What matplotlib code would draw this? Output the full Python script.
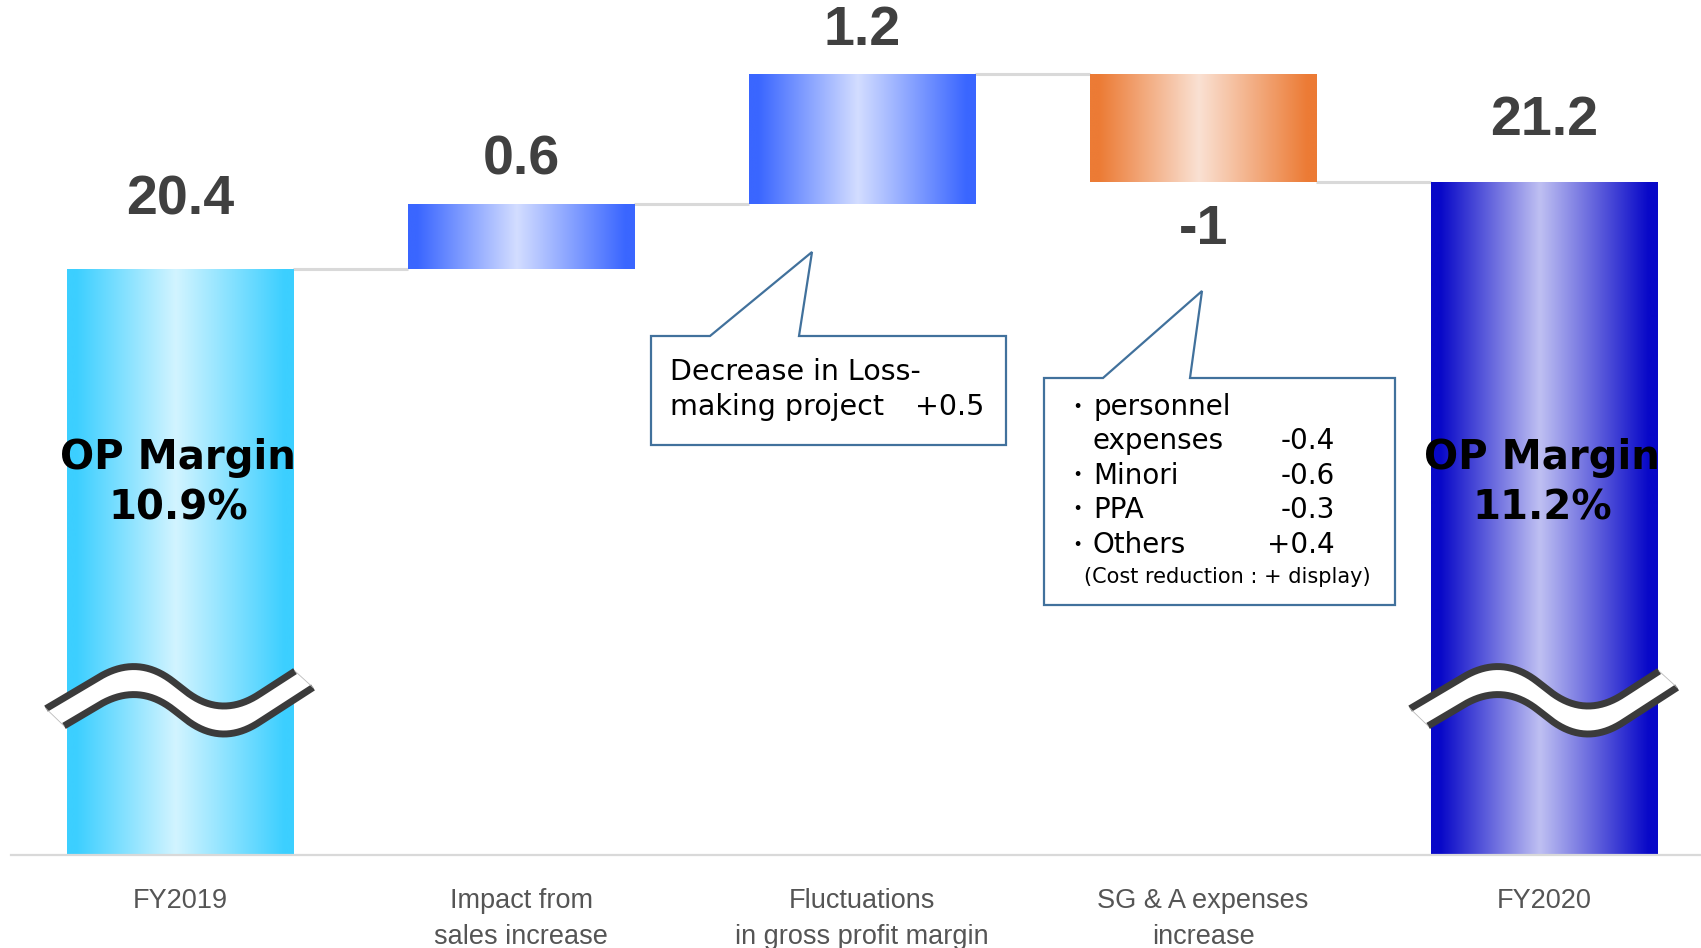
import numpy as np
import matplotlib
matplotlib.use("Agg")
import matplotlib.pyplot as plt
from matplotlib.colors import LinearSegmentedColormap
from matplotlib.patches import Polygon
from matplotlib.transforms import Affine2D
from matplotlib.lines import Line2D

# ---------------- data ----------------
categories = ["FY2019", "Impact from\nsales increase", "Fluctuations\nin gross profit margin",
              "SG & A expenses\nincrease", "FY2020"]
values = [20.4, 0.6, 1.2, -1.0, 21.2]
kinds = ["total", "delta", "delta", "delta", "total"]
margin_labels = ["OP Margin\n10.9%", None, None, None, "OP Margin\n11.2%"]
callout1_lines = ["Decrease in Loss-", "making project"]
callout1_value = "+0.5"
callout2_items = ["personnel\nexpenses", "Minori", "PPA", "Others"]
callout2_values = ["-0.4", "-0.6", "-0.3", "+0.4"]
callout2_note = "(Cost reduction : + display)"
axis_floor = 15.0

# ---------------- style ----------------
edge_cols = ["#3ccfff", "#3a66ff", "#3a66ff", "#ec7b35", "#0808c8"]
mid_cols = ["#d2f4ff", "#d3ddff", "#d3ddff", "#fae1d3", "#bfc0f2"]
label_off_px = [69, 43, 43, -48, 61]

W, H = 1701, 948
fig = plt.figure(figsize=(W / 100, H / 100), dpi=100)
ax = fig.add_axes([11 / W, (H - 855) / H, (W - 11) / W, 855 / H])
XLIM = (-0.4956, 4.46)
YLIM = (axis_floor, axis_floor + 855 / 108.5)

bw = 0.663
xs = np.arange(len(values))

# waterfall geometry from data
bottoms, heights, levels = [], [], []
level = 0.0
for v, k in zip(values, kinds):
    if k == "total":
        bottoms.append(axis_floor)
        heights.append(v - axis_floor)
        level = v
    else:
        bottoms.append(level if v >= 0 else level + v)
        heights.append(abs(v))
        level = level + v
    levels.append(level)

bars = ax.bar(xs, heights, bottom=bottoms, width=bw, color="none", edgecolor="none", zorder=2)

grad = np.linspace(0, 1, 512)[None, :]
for i, b in enumerate(bars):
    cmap = LinearSegmentedColormap.from_list(
        f"g{i}", [(0, edge_cols[i]), (0.04, edge_cols[i]), (0.48, mid_cols[i]),
                  (0.96, edge_cols[i]), (1, edge_cols[i])])
    x0, y0 = b.get_x(), b.get_y()
    im = ax.imshow(grad, cmap=cmap, extent=[x0, x0 + b.get_width(), y0, y0 + b.get_height()],
                   aspect="auto", origin="lower", zorder=2, interpolation="bilinear")
    im.set_clip_path(b)

# connectors
for i in range(len(values) - 1):
    ax.plot([xs[i] + bw / 2, xs[i + 1] - bw / 2], [levels[i], levels[i]],
            color="#d9d9d9", lw=2.2, zorder=1, solid_capstyle="butt")

ax.set_xlim(*XLIM)
ax.set_ylim(*YLIM)
for s in ["top", "left", "right"]:
    ax.spines[s].set_visible(False)
ax.spines["bottom"].set_color("#d9d9d9")
ax.spines["bottom"].set_linewidth(1.6)
ax.set_yticks([])
ax.set_xticks(xs)
ax.set_xticklabels(categories, fontsize=19.5, color="#555555", family="Liberation Sans")
ax.tick_params(axis="x", length=0, pad=23.5)
for lbl in ax.get_xticklabels():
    lbl.set_linespacing(1.5)

# value labels
for i, (v, k) in enumerate(zip(values, kinds)):
    txt = f"{v:g}"
    if k == "total":
        anchor = v
    elif v >= 0:
        anchor = bottoms[i] + heights[i]
    else:
        anchor = bottoms[i]
    ax.annotate(txt, xy=(xs[i], anchor), xytext=(0, label_off_px[i] * 0.72),
                textcoords="offset points", ha="center", va="center",
                fontsize=40, fontweight="bold", color="#404040",
                family="Liberation Sans", zorder=5)

# pixel transform (origin top-left)
px = Affine2D().scale(1, -1).translate(0, H)

def xc_px(i):
    return ax.transData.transform((xs[i], axis_floor))[0]

# OP margin labels
for i, m in enumerate(margin_labels):
    if m:
        fig.text(xc_px(i) - 2, 483, m, transform=px, ha="center", va="center",
                 fontsize=29, fontweight="bold", color="black", family="DejaVu Sans",
                 linespacing=1.34, zorder=8)

# break symbols
def rounded_polyline(pts, d, n=40):
    out = [np.asarray(pts[0], float)]
    for k in range(1, len(pts) - 1):
        P, C, N = (np.asarray(p, float) for p in (pts[k - 1], pts[k], pts[k + 1]))
        A = C + d * (P - C) / np.linalg.norm(P - C)
        B = C + d * (N - C) / np.linalg.norm(N - C)
        t = np.linspace(0, 1, n)[:, None]
        out.extend((1 - t) ** 2 * A + 2 * (1 - t) * t * C + t ** 2 * B)
    out.append(np.asarray(pts[-1], float))
    return np.array(out)

base = rounded_polyline([(-170, 30), (-42, -46), (41, 19), (160, -58)], 45)
def curve(xa, xb, dy):
    xx = np.linspace(xa, xb, 200)
    return np.column_stack([xx, np.interp(xx, base[:, 0], base[:, 1]) + dy])

for i, k in enumerate(kinds):
    if k != "total":
        continue
    tr = Affine2D().scale(1, -1).translate(xc_px(i), H - 700)
    up = curve(-134, 115, 0)
    lo = curve(-116, 133, 28)
    band = np.vstack([up, lo[::-1]])
    fig.add_artist(Polygon(band, closed=True, facecolor="white", edgecolor="none",
                           transform=tr, zorder=6))
    for c in (up, lo):
        fig.add_artist(Line2D(c[:, 0], c[:, 1], color="#3b3b3b", lw=5, transform=tr,
                              zorder=7, solid_capstyle="butt"))
    for a, b in ((up[0], lo[0]), (up[-1], lo[-1])):
        fig.add_artist(Line2D([a[0], b[0]], [a[1], b[1]], color="#bbbbbb", lw=0.6,
                              transform=tr, zorder=7))

# callout 1
box_col = "#41719c"
c1 = [(651, 336), (710, 336), (812, 252), (799, 336), (1006, 336), (1006, 445), (651, 445)]
fig.add_artist(Polygon(c1, closed=True, facecolor="white", edgecolor=box_col, lw=1.6,
                       transform=px, zorder=9))
fig.text(670, 372, callout1_lines[0], transform=px, ha="left", va="center",
         fontsize=20.5, family="DejaVu Sans", zorder=10)
fig.text(670, 407, callout1_lines[1], transform=px, ha="left", va="center",
         fontsize=20.5, family="DejaVu Sans", zorder=10)
fig.text(984, 407, callout1_value, transform=px, ha="right", va="center",
         fontsize=20.5, family="DejaVu Sans", zorder=10)

# callout 2
c2 = [(1044, 378), (1103, 378), (1202, 291), (1190, 378), (1395, 378), (1395, 605), (1044, 605)]
fig.add_artist(Polygon(c2, closed=True, facecolor="white", edgecolor=box_col, lw=1.6,
                       transform=px, zorder=9))
line_y = [407, 441, 476, 510, 545]
li = 0
for item, val in zip(callout2_items, callout2_values):
    parts = item.split("\n")
    fig.text(1077, line_y[li], "・", transform=px, ha="center", va="center",
             fontsize=16, family="Noto Sans CJK JP", zorder=10)
    for p in parts:
        fig.text(1093, line_y[li], p, transform=px, ha="left", va="center",
                 fontsize=20, family="DejaVu Sans", zorder=10)
        li += 1
    fig.text(1335, line_y[li - 1], val, transform=px, ha="right", va="center",
             fontsize=20, family="DejaVu Sans", zorder=10)
fig.text(1084, 577, callout2_note, transform=px, ha="left", va="center",
         fontsize=15, family="DejaVu Sans", zorder=10)

fig.savefig("out.png", dpi=100)
